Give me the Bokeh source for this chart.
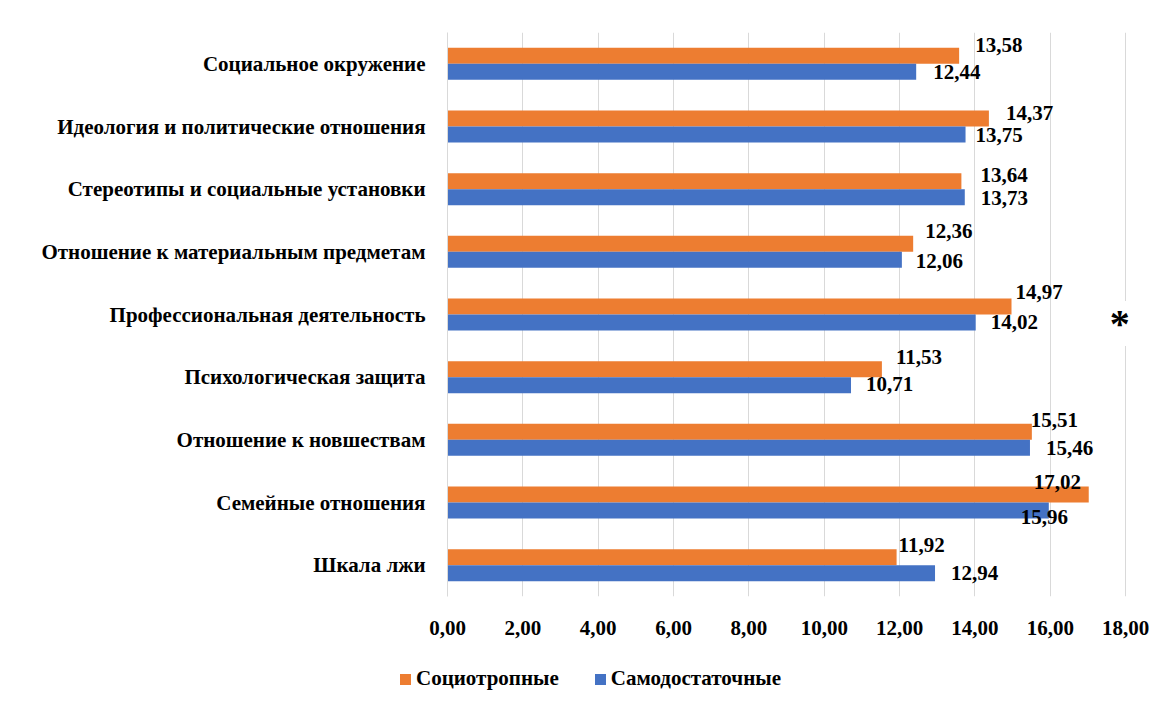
from bokeh.plotting import figure
from bokeh.layouts import column
from bokeh.models import (FactorRange, Range1d, ColumnDataSource, Div,
                          CustomJSTickFormatter, FixedTicker, Label)
from bokeh.transform import dodge
from bokeh.core.properties import value
from bokeh.embed import file_html
from bokeh.resources import INLINE

categories = [
    "Социальное окружение",
    "Идеология и политические отношения",
    "Стереотипы и социальные установки",
    "Отношение к материальным предметам",
    "Профессиональная деятельность",
    "Психологическая защита",
    "Отношение к новшествам",
    "Семейные отношения",
    "Шкала лжи",
]
sociotropic = [13.58, 14.37, 13.64, 12.36, 14.97, 11.53, 15.51, 17.02, 11.92]
selfsufficient = [12.44, 13.75, 13.73, 12.06, 14.02, 10.71, 15.46, 15.96, 12.94]
series_names = ["Социотропные", "Самодостаточные"]
x_ticks = [0, 2, 4, 6, 8, 10, 12, 14, 16, 18]

# label placement (style)
orange_dx = [16, 17, 19, 12, 4, 14, -1, -55, 2]
orange_dy = [-11, -6, -6, -13, -15, -12, -12, -13, -12]
blue_dx = [17, 10, 16, 14, 15, 15, 16, -28, 16]
blue_dy = [0, 1, 1, 1, 0, -1, 0, 7, 0]

ORANGE = "#ED7D31"
BLUE = "#4472C4"
FONT = "Liberation Serif"

def fmt(v):
    return f"{v:.2f}".replace(".", ",")

src = ColumnDataSource(dict(
    cat=categories,
    soc=sociotropic,
    self_=selfsufficient,
    soc_lbl=[fmt(v) for v in sociotropic],
    self_lbl=[fmt(v) for v in selfsufficient],
    odx=orange_dx, ody=orange_dy, bdx=blue_dx, bdy=blue_dy,
))

p = figure(
    width=1151, height=656,
    y_range=FactorRange(*list(reversed(categories))),
    x_range=Range1d(0, 18.5),
    output_backend="svg", toolbar_location=None,
    min_border_left=447, min_border_right=7, min_border_top=32, min_border_bottom=60,
)
p.outline_line_color = None
p.background_fill_color = "white"
p.border_fill_color = "white"

bh = 0.255
r1 = p.hbar(y=dodge("cat", bh / 2, range=p.y_range), right="soc", left=0, height=bh,
            source=src, fill_color=ORANGE, line_color=None)
r2 = p.hbar(y=dodge("cat", -bh / 2, range=p.y_range), right="self_", left=0, height=bh,
            source=src, fill_color=BLUE, line_color=None)

p.text(x="soc", y=dodge("cat", bh / 2, range=p.y_range), text="soc_lbl", source=src,
       x_offset="odx", y_offset="ody", text_font=value(FONT), text_font_style="bold",
       text_font_size="21px", text_baseline="middle", text_align="left", text_color="#000000")
p.text(x="self_", y=dodge("cat", -bh / 2, range=p.y_range), text="self_lbl", source=src,
       x_offset="bdx", y_offset="bdy", text_font=value(FONT), text_font_style="bold",
       text_font_size="21px", text_baseline="middle", text_align="left", text_color="#000000")

star = Label(x=18, y=4.5, text="*", text_font=FONT, text_font_style="bold",
             text_font_size="40px", text_align="center", text_baseline="middle",
             x_offset=-6, y_offset=-9, background_fill_color="white", text_color="#000000")
p.add_layout(star)

# axes
p.xaxis.ticker = FixedTicker(ticks=x_ticks)
p.xaxis.formatter = CustomJSTickFormatter(code="return tick.toFixed(2).replace('.', ',');")
p.xaxis.axis_line_color = None
p.xaxis.major_tick_line_color = None
p.xaxis.minor_tick_line_color = None
p.xaxis.major_label_standoff = 18
p.xaxis.major_label_text_font = FONT
p.xaxis.major_label_text_font_style = "bold"
p.xaxis.major_label_text_font_size = "21px"
p.xaxis.major_label_text_color = "#000000"

p.yaxis.axis_line_color = "#d9d9d9"
p.yaxis.major_tick_line_color = None
p.yaxis.minor_tick_line_color = None
p.yaxis.major_label_standoff = 16
p.yaxis.major_label_text_font = FONT
p.yaxis.major_label_text_font_style = "bold"
p.yaxis.major_label_text_font_size = "21px"
p.yaxis.major_label_text_color = "#000000"

p.xgrid.grid_line_color = "#d9d9d9"
p.ygrid.grid_line_color = None

# legend (HTML strip under the chart)
swatch = ("display:inline-block;width:11px;height:11px;background:{c};"
          "margin-right:5px;margin-left:{ml}px;")
legend_html = (
    "<div style=\"font-family:'Liberation Serif',serif;font-weight:bold;font-size:21px;"
    "color:#000;padding-left:400px;padding-top:10px;line-height:24px;white-space:nowrap;\">"
    f"<span style=\"{swatch.format(c=ORANGE, ml=0)}\"></span>{series_names[0]}"
    f"<span style=\"{swatch.format(c=BLUE, ml=36)}\"></span>{series_names[1]}"
    "</div>"
)
legend_div = Div(text=legend_html, width=1151, height=40, margin=0)

open("out.html", "w").write(file_html(column(p, legend_div, spacing=0), INLINE))
